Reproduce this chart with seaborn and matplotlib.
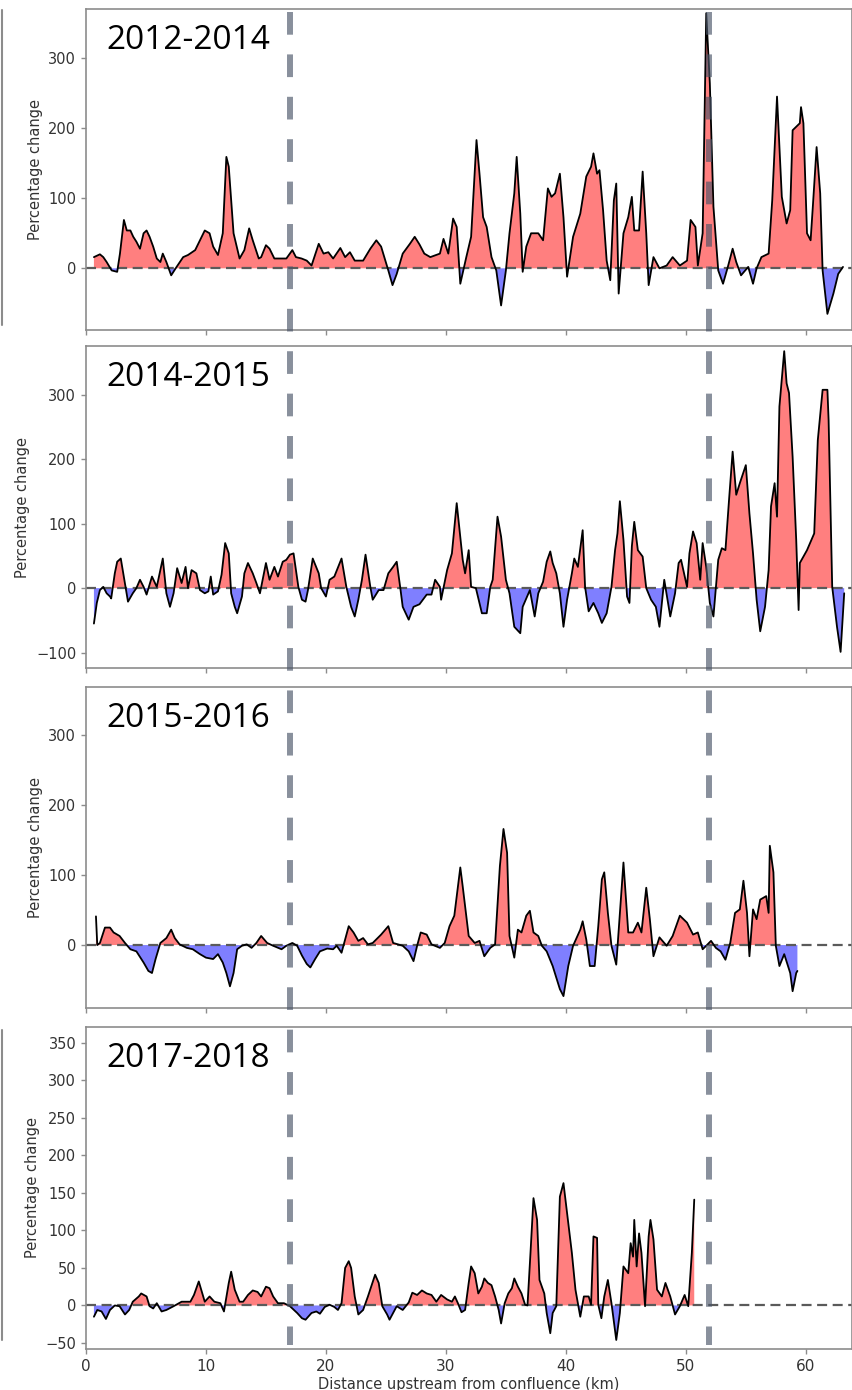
import matplotlib
matplotlib.use("Agg")
import matplotlib.pyplot as plt
from matplotlib.lines import Line2D
from matplotlib import transforms
import pandas as pd
import seaborn as sns

# ---------------- data ----------------
periods = ["2012-2014", "2014-2015", "2015-2016", "2017-2018"]

km_2012_2014 = [
    0.66, 1.16, 1.44, 1.72, 2.14, 2.6, 2.83, 3.16, 3.4, 3.7,
    3.94, 4.2, 4.5, 4.8, 5.05, 5.3, 5.6, 5.9, 6.2, 6.4,
    6.7, 7.1, 7.55, 8.1, 8.5, 9.1, 9.5, 9.9, 10.3, 10.6,
    11.0, 11.4, 11.7, 11.9, 12.3, 12.8, 13.2, 13.6, 13.9, 14.4,
    14.6, 15.0, 15.3, 15.7, 16.2, 16.7, 17.2, 17.5, 17.97, 18.4,
    18.8, 19.4, 19.8, 20.2, 20.6, 21.2, 21.6, 22.0, 22.4, 23.1,
    23.7, 24.2, 24.6, 25.2, 25.55, 25.9, 26.4, 27.0, 27.4, 27.8,
    28.2, 28.7, 29.5, 29.8, 30.2, 30.6, 30.9, 31.2, 31.7, 32.1,
    32.55, 32.8, 33.1, 33.4, 33.8, 34.2, 34.6, 35.0, 35.3, 35.7,
    35.9, 36.2, 36.4, 36.7, 37.1, 37.7, 38.1, 38.5, 38.8, 39.1,
    39.5, 39.8, 40.1, 40.6, 41.2, 41.7, 42.1, 42.3, 42.6, 42.8,
    43.1, 43.4, 43.7, 44.0, 44.2, 44.4, 44.8, 45.2, 45.5, 45.7,
    46.1, 46.4, 46.7, 46.9, 47.3, 47.8, 48.4, 48.9, 49.5, 50.1,
    50.4, 50.8, 51.0, 51.4, 51.7, 52.0, 52.3, 52.7, 53.1, 53.5,
    53.9, 54.2, 54.6, 55.2, 55.6, 55.9, 56.3, 56.9, 57.2, 57.6,
    58.0, 58.4, 58.7, 58.9, 59.5, 59.6, 59.8, 60.1, 60.4, 60.6,
    60.9, 61.2, 61.4, 61.8, 62.3, 62.7, 63.1,
]
pct_2012_2014 = [
    16, 20, 16, 9, -3, -5, 21, 69, 54, 54,
    45, 38, 28, 50, 54, 45, 31, 14, 9, 21,
    9, -10, 2, 16, 19, 26, 40, 54, 50, 31,
    19, 50, 159, 145, 50, 14, 26, 57, 40, 14,
    16, 33, 28, 14, 14, 14, 26, 16, 14, 11,
    4, 35, 21, 23, 14, 29, 16, 23, 11, 11,
    28, 40, 31, -3, -24, -8, 21, 35, 45, 34,
    21, 16, 21, 42, 21, 71, 59, -22, 16, 45,
    183, 135, 73, 59, 16, -3, -53, -3, 50, 107,
    159, 78, -5, 31, 50, 50, 40, 114, 102, 107,
    135, 73, -12, 45, 78, 131, 145, 164, 135, 140,
    83, 11, -17, 97, 121, -36, 50, 73, 102, 54,
    54, 138, 50, -24, 16, 0, 4, 16, 4, 11,
    69, 59, 4, 50, 364, 264, 88, -3, -22, 2,
    28, 9, -10, 2, -22, 0, 16, 21, 97, 245,
    102, 64, 83, 197, 207, 230, 207, 50, 40, 92,
    173, 107, -3, -65, -36, -8, 2,
]

km_2014_2015 = [
    0.66, 0.9, 1.16, 1.44, 1.72, 2.0, 2.1, 2.4, 2.6, 2.9,
    3.2, 3.5, 3.9, 4.2, 4.5, 4.8, 5.05, 5.5, 5.9, 6.4,
    6.7, 7.0, 7.3, 7.6, 7.97, 8.3, 8.5, 8.8, 9.2, 9.5,
    9.9, 10.2, 10.4, 10.6, 11.0, 11.3, 11.6, 11.9, 12.1, 12.4,
    12.6, 13.0, 13.2, 13.5, 13.9, 14.2, 14.5, 15.0, 15.3, 15.7,
    16.0, 16.4, 16.7, 17.0, 17.3, 17.7, 18.0, 18.3, 18.5, 18.9,
    19.4, 19.6, 20.0, 20.3, 20.7, 21.3, 21.7, 22.1, 22.4, 22.7,
    23.0, 23.3, 23.7, 23.9, 24.4, 24.8, 25.2, 25.6, 25.9, 26.2,
    26.4, 26.9, 27.3, 27.8, 28.4, 28.8, 29.1, 29.5, 29.6, 30.1,
    30.5, 30.9, 31.4, 31.6, 31.9, 32.1, 32.5, 33.0, 33.4, 33.7,
    33.9, 34.3, 34.6, 35.0, 35.3, 35.7, 36.2, 36.4, 37.0, 37.4,
    37.7, 38.1, 38.4, 38.7, 38.9, 39.2, 39.5, 39.8, 40.1, 40.5,
    40.7, 41.0, 41.4, 41.6, 41.9, 42.3, 42.7, 43.0, 43.4, 43.8,
    44.1, 44.3, 44.5, 44.8, 45.1, 45.3, 45.5, 45.7, 46.0, 46.4,
    46.7, 47.1, 47.5, 47.8, 48.2, 48.7, 49.1, 49.4, 49.6, 50.1,
    50.3, 50.6, 50.9, 51.2, 51.4, 51.7, 52.0, 52.3, 52.7, 53.0,
    53.3, 53.6, 53.9, 54.2, 54.5, 55.0, 55.3, 55.6, 55.9, 56.2,
    56.6, 56.9, 57.1, 57.4, 57.6, 57.8, 58.2, 58.4, 58.6, 58.9,
    59.2, 59.4, 59.5, 60.1, 60.7, 61.0, 61.4, 61.8, 61.9, 62.2,
    62.6, 62.9, 63.2,
]
pct_2014_2015 = [
    -55, -23, -3, 2, -8, -13, -16, 23, 41, 46,
    13, -21, -8, 0, 13, 2, -10, 18, 2, 46,
    -8, -29, -8, 31, 8, 33, 0, 28, 23, -3,
    -8, -5, 18, -10, -5, 21, 70, 54, -8, -29,
    -39, -13, 23, 39, 23, 8, -8, 39, 13, 33,
    18, 41, 44, 52, 54, 2, -18, -21, -3, 46,
    23, 0, -13, 13, 18, 46, 2, -29, -44, -18,
    13, 52, 2, -18, -3, -3, 23, 33, 41, 0,
    -29, -49, -29, -25, -10, -10, 13, 2, -18, 28,
    54, 132, 44, 23, 59, 2, 0, -39, -39, 2,
    13, 111, 80, 13, -8, -60, -70, -29, -3, -44,
    -8, 10, 41, 57, 39, 23, -8, -60, -18, 23,
    46, 33, 90, 2, -36, -23, -39, -54, -39, 2,
    59, 85, 135, 75, -13, -23, 65, 103, 59, 49,
    0, -18, -29, -60, 13, -44, -8, 39, 44, 2,
    54, 88, 70, 13, 70, 33, -23, -44, 44, 62,
    59, 137, 212, 145, 163, 191, 116, 54, -18, -67,
    -29, 28, 127, 163, 111, 282, 368, 318, 303, 204,
    75, -34, 39, 59, 85, 230, 308, 308, 261, 2,
    -60, -99, -8,
]

km_2015_2016 = [
    0.83, 0.94, 1.16, 1.58, 2.0, 2.3, 2.8, 3.25, 3.7, 4.2,
    4.8, 5.2, 5.5, 5.8, 6.2, 6.7, 7.1, 7.4, 7.8, 8.4,
    8.9, 9.5, 10.0, 10.6, 11.0, 11.4, 11.7, 12.0, 12.3, 12.6,
    13.0, 13.4, 13.8, 14.2, 14.6, 15.1, 15.6, 16.3, 16.7, 17.2,
    17.6, 18.0, 18.4, 18.7, 19.1, 19.5, 20.1, 20.6, 20.9, 21.3,
    21.9, 22.3, 22.7, 23.1, 23.5, 23.9, 24.6, 25.2, 25.6, 26.0,
    26.4, 26.9, 27.3, 27.6, 27.9, 28.4, 28.8, 29.5, 29.9, 30.3,
    30.7, 31.2, 31.4, 31.9, 32.4, 32.8, 33.2, 33.7, 34.1, 34.5,
    34.8, 35.1, 35.3, 35.7, 36.0, 36.3, 36.7, 37.0, 37.3, 37.7,
    38.0, 38.4, 38.9, 39.5, 39.8, 40.2, 40.6, 41.2, 41.4, 41.7,
    42.0, 42.4, 42.7, 43.0, 43.2, 43.5, 43.8, 44.2, 44.5, 44.8,
    45.2, 45.6, 46.0, 46.3, 46.7, 47.0, 47.3, 47.8, 48.4, 48.9,
    49.5, 50.1, 50.6, 51.0, 51.4, 51.7, 52.1, 52.5, 52.9, 53.3,
    53.7, 54.1, 54.5, 54.8, 55.1, 55.3, 55.6, 55.9, 56.2, 56.7,
    56.9, 57.0, 57.3, 57.5, 57.8, 58.2, 58.7, 58.9, 59.2, 59.3,
]
pct_2015_2016 = [
    41, 0, 3, 25, 25, 18, 13, 3, -6, -9,
    -25, -37, -40, -20, 3, 10, 22, 10, 1, -4,
    -6, -13, -18, -20, -13, -25, -40, -59, -40, -6,
    -1, 1, -4, 3, 13, 3, -1, -6, -1, 3,
    -1, -15, -27, -32, -20, -9, -5, -6, -1, -11,
    27, 18, 6, 10, 1, 3, 15, 27, 3, 1,
    -1, -9, -23, -1, 18, 15, 1, -4, 3, 27,
    42, 111, 84, 13, 3, 6, -16, -4, 1, 113,
    166, 132, 13, -18, 22, 18, 42, 49, 18, 13,
    -1, -9, -30, -63, -73, -30, -1, 22, 34, 8,
    -30, -30, 27, 94, 104, 46, -1, -28, 46, 118,
    18, 18, 32, 18, 82, 37, -16, 11, -1, 13,
    42, 32, 15, 18, -6, -1, 6, -4, -9, -21,
    3, 46, 51, 92, 46, -16, 51, 37, 65, 70,
    46, 142, 104, -1, -30, -13, -40, -66, -40, -37,
]

km_2017_2018 = [
    0.66, 0.94, 1.3, 1.66, 2.0, 2.4, 2.8, 3.25, 3.6, 3.9,
    4.4, 4.6, 5.05, 5.3, 5.6, 5.9, 6.3, 6.7, 7.3, 7.97,
    8.7, 9.0, 9.4, 9.6, 9.9, 10.3, 10.7, 11.2, 11.5, 11.9,
    12.1, 12.4, 12.8, 13.1, 13.5, 13.9, 14.3, 14.6, 15.0, 15.3,
    15.6, 16.0, 16.5, 17.0, 17.6, 18.0, 18.3, 18.8, 19.2, 19.5,
    19.9, 20.3, 20.7, 21.0, 21.3, 21.6, 21.9, 22.1, 22.4, 22.7,
    23.1, 23.5, 24.1, 24.4, 24.7, 25.1, 25.3, 25.6, 25.9, 26.4,
    26.9, 27.2, 27.6, 28.0, 28.4, 28.8, 29.2, 29.6, 30.1, 30.5,
    30.75, 31.0, 31.3, 31.6, 31.9, 32.1, 32.4, 32.7, 33.0, 33.2,
    33.5, 33.8, 34.1, 34.4, 34.6, 34.9, 35.2, 35.5, 35.7, 36.0,
    36.3, 36.6, 36.8, 37.05, 37.3, 37.6, 37.8, 38.2, 38.4, 38.7,
    38.9, 39.2, 39.5, 39.8, 40.1, 40.5, 40.8, 41.2, 41.5, 41.9,
    42.1, 42.3, 42.6, 42.7, 42.96, 43.2, 43.5, 43.8, 44.2, 44.5,
    44.8, 45.2, 45.4, 45.6, 45.7, 45.9, 46.1, 46.3, 46.6, 46.9,
    47.05, 47.3, 47.6, 48.0, 48.3, 48.7, 49.1, 49.5, 49.9, 50.2,
    50.5, 50.7,
]
pct_2017_2018 = [
    -15, -6, -8, -18, -6, 0, -1, -12, -6, 5,
    12, 16, 12, -1, -4, 3, -8, -6, -1, 5,
    5, 14, 32, 21, 5, 12, 5, 3, -8, 30,
    45, 21, 5, 5, 14, 20, 18, 12, 25, 23,
    12, 3, 3, -1, -10, -17, -19, -10, -8, -11,
    -2, 1, -2, -6, 3, 50, 59, 50, 12, -12,
    -6, 12, 41, 30, -1, -12, -19, -10, -1, -6,
    4, 17, 14, 20, 16, 14, 5, 14, 8, 5,
    12, 3, -9, -6, 30, 52, 43, 16, 25, 36,
    30, 27, 12, -6, -24, 3, 16, 23, 36, 25,
    16, 1, 0, 70, 143, 114, 34, 16, -10, -37,
    -10, -1, 145, 163, 123, 70, 21, -15, 12, 12,
    1, 92, 90, 1, -17, 12, 34, 3, -46, -10,
    52, 43, 83, 65, 114, 52, 96, 70, -1, 92,
    114, 88, 21, 12, 30, 12, -12, -1, 14, -1,
    70, 141,
]

series_km = [km_2012_2014, km_2014_2015, km_2015_2016, km_2017_2018]
series_pct = [pct_2012_2014, pct_2014_2015, pct_2015_2016, pct_2017_2018]

y_limits = [(-88, 370), (-124, 376), (-90, 369), (-58, 371)]
y_ticks = [[0, 100, 200, 300],
           [-100, 0, 100, 200, 300],
           [0, 100, 200, 300],
           [-50, 0, 50, 100, 150, 200, 250, 300, 350]]
x_ticks = [0, 10, 20, 30, 40, 50, 60]
x_limits = (0, 63.85)
divider_km = [17.0, 51.9]

y_label = "Percentage change"
x_label = "Distance upstream from confluence (km)"

# ---------------- styling ----------------
sns.set_theme(style="ticks")
plt.rcParams['font.family'] = ['DejaVu Sans']

W, H = 853, 1390
fig = plt.figure(figsize=(W / 100, H / 100), dpi=100)

# axes boxes in pixels: (left, top, right, bottom)
boxes = [(86, 9, 852, 330), (86, 346, 852, 668),
         (86, 687, 852, 1008), (86, 1027, 852, 1349)]

axes = []
for i, (box, km, pct) in enumerate(zip(boxes, series_km, series_pct)):
    l, t, r, b = box
    ax = fig.add_axes([l / W, 1 - b / H, (r - l) / W, (b - t) / H])
    axes.append(ax)
    df = pd.DataFrame({"km": km, "pct": pct})

    ax.fill_between(df["km"], df["pct"], 0, where=df["pct"] >= 0,
                    interpolate=True, color="red", alpha=0.5, linewidth=0, zorder=1)
    ax.fill_between(df["km"], df["pct"], 0, where=df["pct"] <= 0,
                    interpolate=True, color="blue", alpha=0.5, linewidth=0, zorder=1)
    sns.lineplot(data=df, x="km", y="pct", ax=ax, color="black",
                 linewidth=1.3, sort=False, estimator=None, zorder=3)
    ax.axhline(0, color="#5a5a5a", linestyle=(0, (4.5, 2.5)), linewidth=1.6, zorder=2)

    ax.set_xlim(*x_limits)
    ax.set_ylim(*y_limits[i])
    ax.set_yticks(y_ticks[i])
    ax.set_xticks(x_ticks)
    ax.set_ylabel(y_label, fontsize=10.5, color="#333333", labelpad=4)
    ax.set_xlabel("")
    ax.tick_params(axis="both", direction="out", length=3.5, width=1.0,
                   colors="#8c8c8c", labelcolor="#333333", labelsize=10.5)
    if i < 3:
        ax.tick_params(axis="x", labelbottom=False)
    else:
        ax.set_xlabel(x_label, fontsize=10.5, color="#333333", labelpad=2)
        ax.tick_params(axis="x", labelsize=11)
    for sp in ax.spines.values():
        sp.set_visible(True)
        sp.set_color("#8c8c8c")
        sp.set_linewidth(1.2)

    ax.text(0.027, 0.875, periods[i], transform=ax.transAxes,
            ha="left", va="baseline", fontsize=24, color="black",
            family=["Open Sans", "DejaVu Sans"], zorder=5)

# vertical dashed dividers spanning all panels
blend = transforms.blended_transform_factory(axes[-1].transData, fig.transFigure)
for d in divider_km:
    fig.add_artist(Line2D([d, d], [1 - 12 / H, 1 - 1345 / H], transform=blend,
                          color="#4a5568", alpha=0.65, linewidth=4.3,
                          linestyle=(0, (3.8, 3.3)), zorder=10))

# faint frame remnants at the left edge
for y0, y1 in [(10, 325), (1030, 1340)]:
    fig.add_artist(Line2D([2.5 / W, 2.5 / W], [1 - y0 / H, 1 - y1 / H],
                          transform=fig.transFigure, color="#8c8c8c", linewidth=1.5))

fig.savefig("out.png", dpi=100)
